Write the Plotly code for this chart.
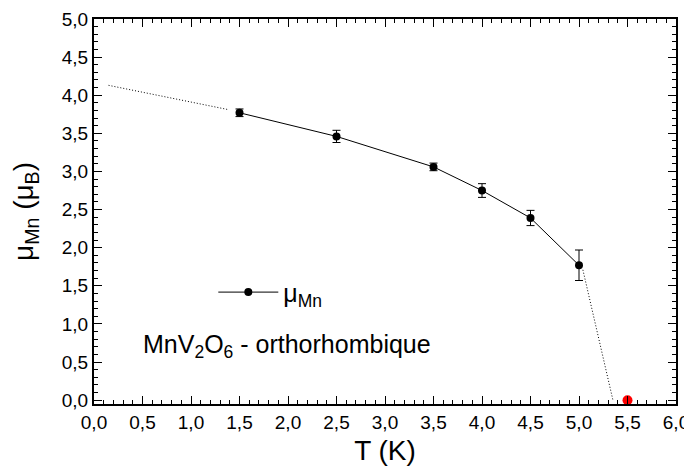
import plotly.graph_objects as go

# measured points
T = [1.5, 2.5, 3.5, 4.0, 4.5, 5.0]
mu_Mn = [3.77, 3.46, 3.06, 2.75, 2.39, 1.77]
mu_err = [0.05, 0.08, 0.05, 0.09, 0.10, 0.20]

# extrapolations (dotted)
T_low = [0.15, 1.39]
mu_low = [4.13, 3.81]
T_high = [5.04, 5.35]
mu_high = [1.71, 0.0]

# transition point
T_c = [5.5]
mu_c = [0.0]

font = "Arial"

fig = go.Figure()
fig.add_trace(go.Scatter(x=T_low, y=mu_low, mode="lines",
                         line=dict(color="black", width=1, dash="1px,2px"),
                         showlegend=False))
fig.add_trace(go.Scatter(x=T_high, y=mu_high, mode="lines",
                         line=dict(color="black", width=1, dash="1px,2px"),
                         showlegend=False))
fig.add_trace(go.Scatter(x=T, y=mu_Mn, mode="lines+markers",
                         name="μ<sub>Mn</sub>",
                         line=dict(color="black", width=1),
                         marker=dict(color="black", size=8),
                         error_y=dict(type="data", array=mu_err, color="black",
                                      thickness=1, width=4)))
fig.add_trace(go.Scatter(x=T_c, y=mu_c, mode="markers",
                         marker=dict(color="#ff0000", size=10),
                         showlegend=False))

axis = dict(showline=True, linecolor="black", linewidth=2, mirror="ticks",
            ticks="inside", ticklen=8, tickwidth=1, tickcolor="black",
            showgrid=False, zeroline=False, tickformat=".1f", automargin=False,
            tickfont=dict(family=font, size=19, color="black"),
            minor=dict(ticks="inside", ticklen=4, tickcolor="black"))

fig.update_xaxes(range=[0, 6], dtick=0.5, **axis,
                 title=dict(text="T (K)", font=dict(family=font, size=28, color="black"),
                            standoff=9))
fig.update_yaxes(range=[-0.05, 5.0], dtick=0.5, **axis,
                 title=dict(text="μ<sub>Mn</sub> (μ<sub>B</sub>)",
                            font=dict(family=font, size=28, color="black"),
                            standoff=20))

fig.add_annotation(x=0.08, y=0.15, xref="paper", yref="paper",
                   xanchor="left", yanchor="middle", showarrow=False,
                   text="MnV<sub>2</sub>O<sub>6</sub> - orthorhombique",
                   font=dict(family=font, size=25, color="black"))

# page body has an 8px margin, so the figure is a bit smaller than the window
fig.update_layout(width=684, height=463, separators=",.",
                  plot_bgcolor="white", paper_bgcolor="white",
                  margin=dict(l=86, r=16, t=11, b=67),
                  legend=dict(x=0.205, y=0.29, xanchor="left", yanchor="middle",
                              bgcolor="rgba(0,0,0,0)", itemwidth=60,
                              font=dict(family=font, size=25, color="black")))

fig.write_html("out.html")
